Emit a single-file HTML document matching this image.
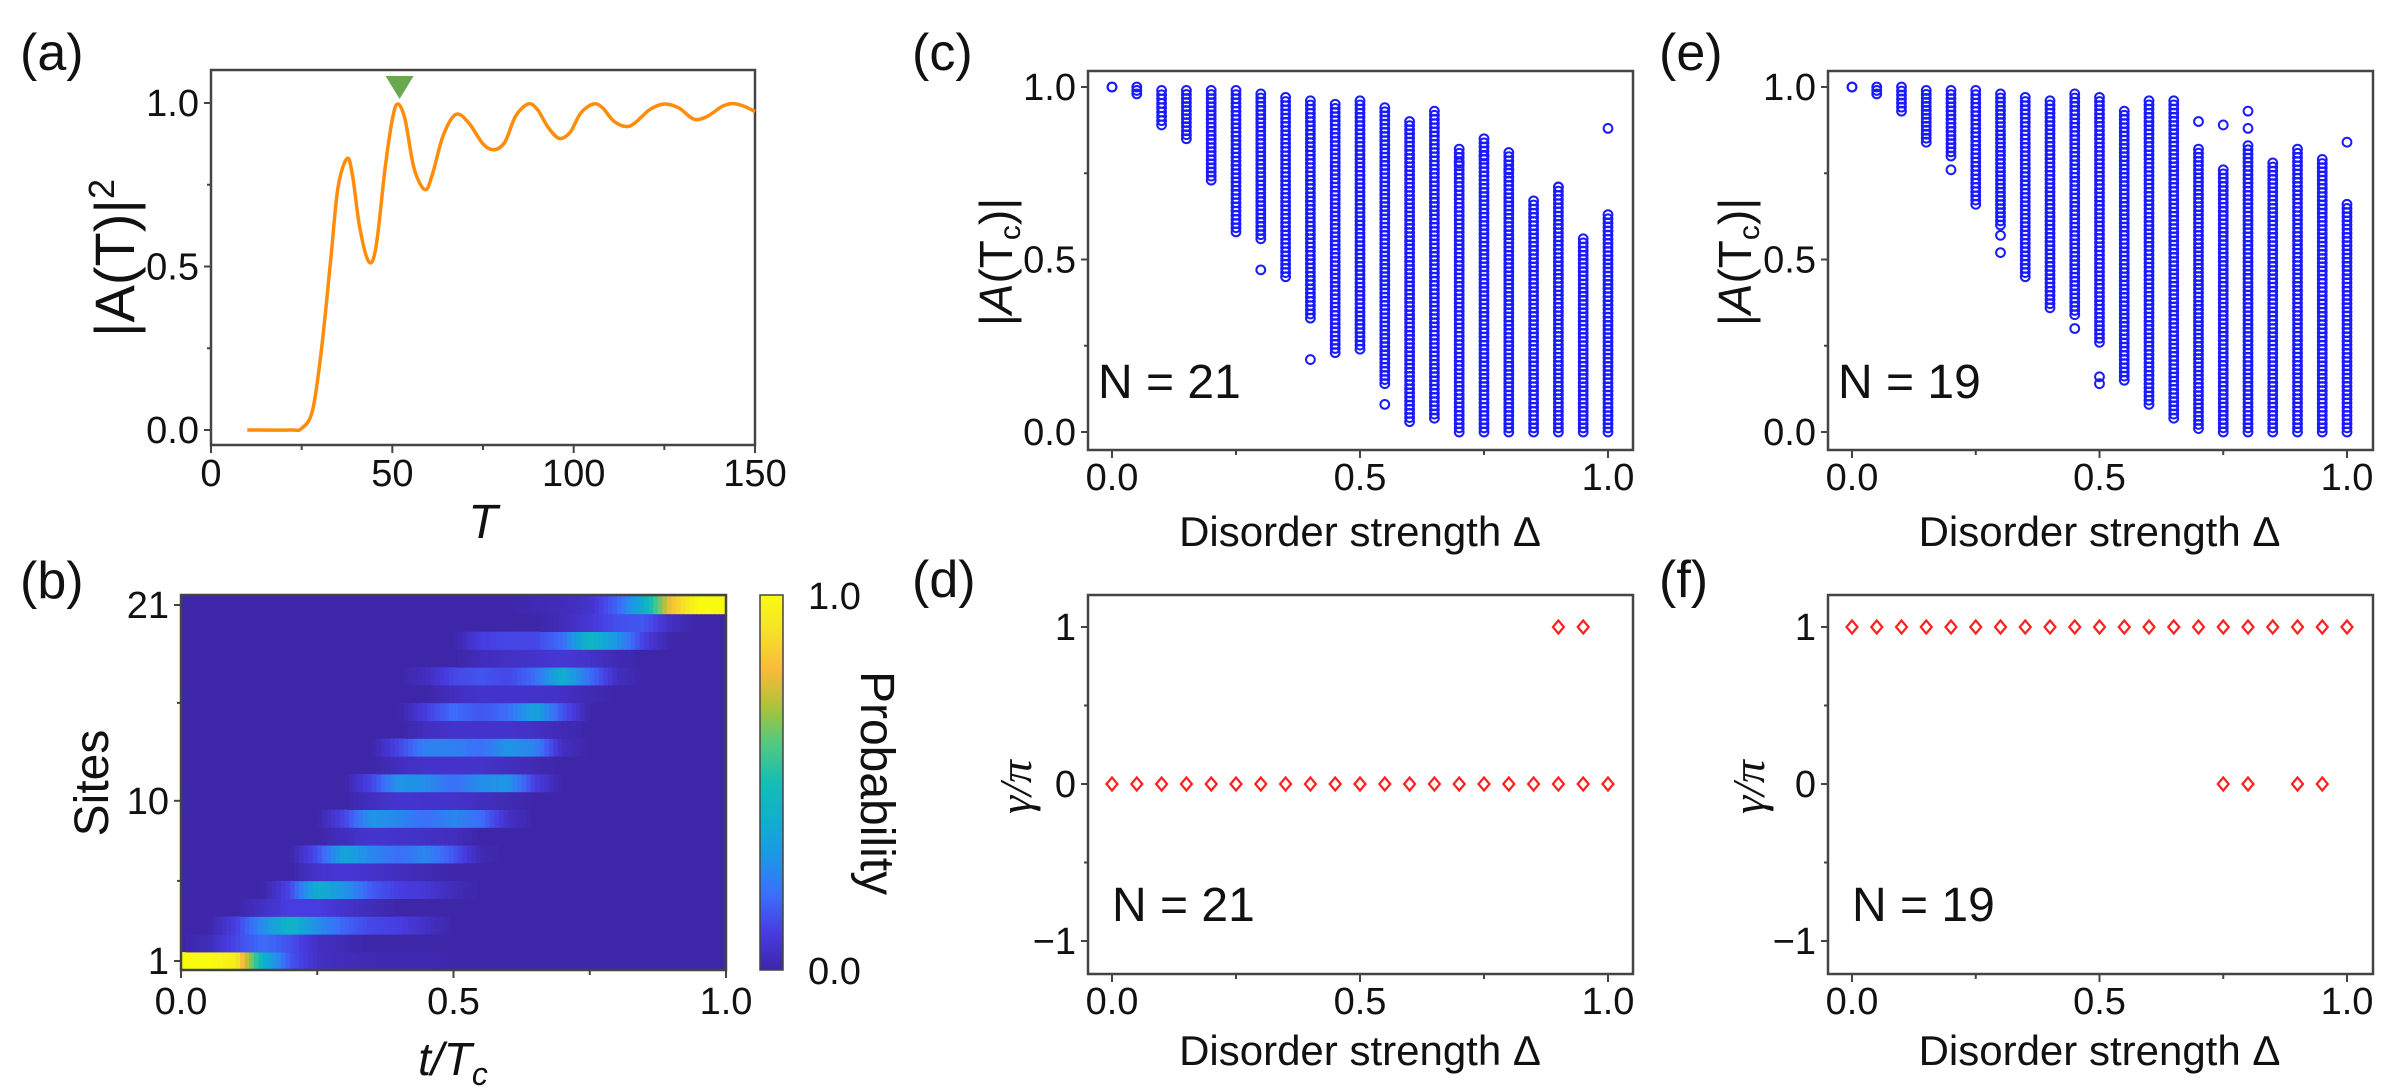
<!DOCTYPE html>
<html><head><meta charset="utf-8">
<style>
html,body{margin:0;padding:0;background:#fff;}
svg{display:block;font-family:"Liberation Sans",Arial,sans-serif;}
</style></head>
<body>
<svg id="fig" xmlns="http://www.w3.org/2000/svg" width="2400" height="1092" viewBox="0 0 2400 1092">
<defs>
<linearGradient id="parula" x1="0" y1="1" x2="0" y2="0">
<stop offset="0" stop-color="rgb(62,38,168)"/>
<stop offset="0.1" stop-color="rgb(72,60,225)"/>
<stop offset="0.2" stop-color="rgb(60,110,250)"/>
<stop offset="0.3" stop-color="rgb(30,150,230)"/>
<stop offset="0.4" stop-color="rgb(15,175,205)"/>
<stop offset="0.5" stop-color="rgb(20,190,180)"/>
<stop offset="0.6" stop-color="rgb(80,200,130)"/>
<stop offset="0.7" stop-color="rgb(170,195,60)"/>
<stop offset="0.8" stop-color="rgb(250,185,60)"/>
<stop offset="0.9" stop-color="rgb(245,225,40)"/>
<stop offset="1" stop-color="rgb(249,251,14)"/>
</linearGradient>
<clipPath id="clipB"><rect x="181" y="595" width="545" height="375"/></clipPath>
</defs>
<g id="layer"></g>
</svg>
<script>
// ---------- Panel (a) data ----------
const aT = [10,22,25,28,30.5,33,35,37.5,39,41,43.5,45.5,48,50,51.5,53.5,56,59,61,64,67.5,71,75,78,81,84,87.5,90,93,96,99,102,105.5,108,111,114.5,117,121,125,129,132,134,137,141,144,147,150];
const aV = [0,0,0.005,0.06,0.25,0.52,0.74,0.83,0.78,0.62,0.515,0.56,0.8,0.95,0.997,0.95,0.8,0.735,0.78,0.9,0.965,0.94,0.875,0.857,0.88,0.96,0.997,0.98,0.925,0.892,0.91,0.97,0.997,0.985,0.945,0.928,0.94,0.98,0.997,0.985,0.958,0.949,0.96,0.99,0.998,0.99,0.974];
const aMarkerT = [52];
const aMarkerV = [1.0];
const aXTicks = [0,50,100,150];
const aYTicks = ["0.0","0.5","1.0"];

// ---------- Panel (b) data: rows = sites 1..21, cols = t 0,0.05,...,1 ----------
const bTimes = [0,0.05,0.1,0.15,0.2,0.25,0.3,0.35,0.4,0.45,0.5,0.55,0.6,0.65,0.7,0.75,0.8,0.85,0.9,0.95,1];
const bProb = [
[1,1,0.95,0.42,0.15,0.05,0.03,0.02,0.02,0.02,0,0,0,0,0,0,0,0,0,0,0],
[0,0.03,0.12,0.2,0.14,0.05,0.02,0,0,0,0,0,0,0,0,0,0,0,0,0,0],
[0,0,0.1,0.28,0.44,0.28,0.18,0.12,0.1,0.05,0,0,0,0,0,0,0,0,0,0,0],
[0,0,0,0.05,0.1,0.1,0.06,0.03,0,0,0,0,0,0,0,0,0,0,0,0,0],
[0,0,0,0,0.12,0.4,0.3,0.16,0.1,0.08,0.03,0,0,0,0,0,0,0,0,0,0],
[0,0,0,0,0,0.06,0.08,0.06,0.04,0.02,0,0,0,0,0,0,0,0,0,0,0],
[0,0,0,0,0,0.14,0.36,0.26,0.2,0.26,0.15,0.02,0,0,0,0,0,0,0,0,0],
[0,0,0,0,0,0,0.04,0.07,0.06,0.05,0.04,0,0,0,0,0,0,0,0,0,0],
[0,0,0,0,0,0,0.12,0.3,0.26,0.2,0.26,0.2,0.05,0,0,0,0,0,0,0,0],
[0,0,0,0,0,0,0,0.04,0.07,0.06,0.06,0.04,0.02,0,0,0,0,0,0,0,0],
[0,0,0,0,0,0,0,0.12,0.3,0.28,0.2,0.28,0.3,0.1,0,0,0,0,0,0,0],
[0,0,0,0,0,0,0,0,0.04,0.06,0.06,0.06,0.04,0.02,0,0,0,0,0,0,0],
[0,0,0,0,0,0,0,0,0.12,0.25,0.25,0.2,0.3,0.25,0.04,0,0,0,0,0,0],
[0,0,0,0,0,0,0,0,0,0.04,0.06,0.06,0.06,0.05,0.02,0,0,0,0,0,0],
[0,0,0,0,0,0,0,0,0,0.1,0.2,0.15,0.2,0.35,0.15,0,0,0,0,0,0],
[0,0,0,0,0,0,0,0,0,0,0.04,0.06,0.06,0.06,0.05,0.02,0,0,0,0,0],
[0,0,0,0,0,0,0,0,0,0.04,0.12,0.15,0.12,0.2,0.4,0.2,0.04,0,0,0,0],
[0,0,0,0,0,0,0,0,0,0,0,0.03,0.05,0.06,0.08,0.06,0.02,0,0,0,0],
[0,0,0,0,0,0,0,0,0,0,0,0.1,0.12,0.12,0.2,0.45,0.3,0.1,0,0,0],
[0,0,0,0,0,0,0,0,0,0,0,0,0,0,0.03,0.08,0.14,0.15,0.04,0,0],
[0,0,0,0,0,0,0,0,0,0,0,0,0,0.02,0.03,0.06,0.18,0.4,0.82,1,1]
];
const bXTicks = ["0.0","0.5","1.0"];
const bYTicks = [1,10,21];

// ---------- Panel (c) data (N=21) ----------
const cDelta = [0,0.05,0.1,0.15,0.2,0.25,0.3,0.35,0.4,0.45,0.5,0.55,0.6,0.65,0.7,0.75,0.8,0.85,0.9,0.95,1.0];
const cMin = [1.0,0.98,0.89,0.85,0.73,0.58,0.56,0.45,0.33,0.23,0.24,0.14,0.03,0.04,0.0,0.0,0.0,0.0,0.0,0.0,0.0];
const cMax = [1.0,1.0,0.99,0.99,0.99,0.99,0.98,0.97,0.96,0.95,0.96,0.94,0.9,0.93,0.82,0.85,0.81,0.67,0.71,0.56,0.63];
const cOutX = [0.3,0.4,0.55,0.7,0.75,0.8,0.9,1.0];
const cOutV = [0.47,0.21,0.08,0.78,0.8,0.76,0.71,0.88];

// ---------- Panel (e) data (N=19) ----------
const eDelta = [0,0.05,0.1,0.15,0.2,0.25,0.3,0.35,0.4,0.45,0.5,0.55,0.6,0.65,0.7,0.75,0.8,0.85,0.9,0.95,1.0];
const eMin = [1.0,0.98,0.93,0.84,0.8,0.66,0.6,0.45,0.36,0.34,0.26,0.15,0.08,0.04,0.01,0.0,0.0,0.0,0.0,0.0,0.0];
const eMax = [1.0,1.0,1.0,0.99,0.99,0.99,0.98,0.97,0.96,0.98,0.97,0.93,0.96,0.96,0.82,0.76,0.83,0.78,0.82,0.79,0.66];
const eOutX = [0.2,0.3,0.3,0.45,0.5,0.5,0.7,0.75,0.8,0.8,1.0];
const eOutV = [0.76,0.52,0.57,0.30,0.14,0.16,0.9,0.89,0.93,0.88,0.84];

// ---------- Panel (d) / (f) data ----------
const dDelta = [0,0.05,0.1,0.15,0.2,0.25,0.3,0.35,0.4,0.45,0.5,0.55,0.6,0.65,0.7,0.75,0.8,0.85,0.9,0.95,1.0,0.9,0.95];
const dGamma = [0,0,0,0,0,0,0,0,0,0,0,0,0,0,0,0,0,0,0,0,0,1,1];
const fDelta = [0,0.05,0.1,0.15,0.2,0.25,0.3,0.35,0.4,0.45,0.5,0.55,0.6,0.65,0.7,0.75,0.8,0.85,0.9,0.95,1.0,0.75,0.8,0.9,0.95];
const fGamma = [1,1,1,1,1,1,1,1,1,1,1,1,1,1,1,1,1,1,1,1,1,0,0,0,0];
const deltaTicks = ["0.0","0.5","1.0"];
const ampTicks = ["0.0","0.5","1.0"];
const gammaTicks = [-1,0,1];

const NS = "http://www.w3.org/2000/svg";
const root = document.getElementById('layer');
function mk(tag, attrs, parent){
  const e = document.createElementNS(NS, tag);
  for (const k in attrs) e.setAttribute(k, attrs[k]);
  (parent||root).appendChild(e);
  return e;
}
function lin(d0,d1,r0,r1){ return v => r0 + (v-d0)*(r1-r0)/(d1-d0); }
function txt(x,y,s,size,anchor,extra){
  const t = mk('text', Object.assign({x:x,y:y,'font-size':size,'text-anchor':anchor||'start',fill:'#111'}, extra||{}));
  t.textContent = s;
  return t;
}
function frame(x0,y0,x1,y1,name){
  const r = mk('rect',{x:x0,y:y0,width:x1-x0,height:y1-y0,fill:'none',stroke:'#444','stroke-width':2.5});
  
  
  return r;
}
function xtick(x,yb,len){ mk('line',{x1:x,x2:x,y1:yb,y2:yb+len,stroke:'#444','stroke-width':2}); }
function ytick(xl,y,len){ mk('line',{x1:xl,x2:xl-len,y1:y,y2:y,stroke:'#444','stroke-width':2}); }
function panelLabel(x,y,s,name){
  const t = txt(x,y,s,52,'start');
  
  
}
function smoothPath(pts){
  let d = 'M'+pts[0][0]+','+pts[0][1];
  for (let i=0;i<pts.length-1;i++){
    const p0=pts[Math.max(i-1,0)], p1=pts[i], p2=pts[i+1], p3=pts[Math.min(i+2,pts.length-1)];
    const c1=[p1[0]+(p2[0]-p0[0])/6, p1[1]+(p2[1]-p0[1])/6];
    const c2=[p2[0]-(p3[0]-p1[0])/6, p2[1]-(p3[1]-p1[1])/6];
    d += ' C'+c1[0].toFixed(2)+','+c1[1].toFixed(2)+' '+c2[0].toFixed(2)+','+c2[1].toFixed(2)+' '+p2[0].toFixed(2)+','+p2[1].toFixed(2);
  }
  return d;
}

// ================= Panel (a) =================
(function(){
  const X = lin(0,150,211,755), Y = lin(0,1,430,103);
  panelLabel(20,70,'(a)','panel-a-label');
  frame(211,70,755,445,'panel-a-frame');
  aXTicks.forEach(v=>{ xtick(X(v),445,8); const t=txt(X(v),486,String(v),38,'middle');   });
  [25,75,125].forEach(v=>xtick(X(v),445,5));
  aYTicks.forEach(s=>{ const v=parseFloat(s); ytick(211,Y(v),7); const t=txt(199,Y(v)+13,s,38,'end');   });
  [0.25,0.75].forEach(v=>ytick(211,Y(v),4));
  const pts = aT.map((t,i)=>[X(t),Y(aV[i])]);
  const p = mk('path',{d:smoothPath(pts),fill:'none',stroke:'#ff8c0a','stroke-width':3.5,'stroke-linejoin':'round'});
  
  
  aMarkerT.forEach((t,i)=>{
    const cx=X(t), cy=Y(aMarkerV[i])-4;
    const tri = mk('polygon',{points:(cx-14)+','+(cy-23)+' '+(cx+14)+','+(cy-23)+' '+cx+','+cy,fill:'#6aa84f'});
    
    
  });
  const yl = txt(0,0,'',56,'middle',{transform:'translate(134,258) rotate(-90)'});
  yl.innerHTML = '|A(T)|<tspan dy="-20" font-size="36">2</tspan>';
  
  
  const xl = txt(483,538,'T',48,'middle',{'font-style':'italic'});
  
  
})();

// ================= Panel (b) =================
(function(){
  const X = lin(0,1,181,726), Y = lin(1,21,961,605);
  const rowH = (961-605)/20;
  panelLabel(20,598,'(b)','panel-b-label');
  const g = mk('g',{'clip-path':'url(#clipB)'});
  
  
  mk('rect',{x:181,y:595,width:545,height:375,fill:'rgb(62,38,168)'},g);
  const stops=[[0,[62,38,168]],[0.1,[72,60,225]],[0.2,[60,110,250]],[0.3,[30,150,230]],[0.4,[15,175,205]],[0.5,[20,190,180]],[0.6,[80,200,130]],[0.7,[170,195,60]],[0.8,[250,185,60]],[0.9,[245,225,40]],[1,[249,251,14]]];
  function cmap(v){
    v=Math.max(0,Math.min(1,v));
    for(let i=0;i<stops.length-1;i++){
      if(v<=stops[i+1][0]){const f=(v-stops[i][0])/(stops[i+1][0]-stops[i][0]);const a=stops[i][1],b=stops[i+1][1];
        return 'rgb('+a.map((c,k)=>Math.round(c+(b[k]-c)*f)).join(',')+')';}
    }
    return 'rgb(249,251,14)';
  }
  const nSlices = 120;
  bProb.forEach((row,ri)=>{
    const site = ri+1;
    const yc = Y(site);
    for(let s=0;s<nSlices;s++){
      const t = (s+0.5)/nSlices;
      let k = Math.min(Math.floor(t/0.05), bTimes.length-2);
      const f = (t-bTimes[k])/(bTimes[k+1]-bTimes[k]);
      const v = row[k]+(row[k+1]-row[k])*f;
      if(v<0.005) continue;
      const c = mk('rect',{x:X(s/nSlices).toFixed(2),y:(yc-rowH/2).toFixed(2),width:(545/nSlices+0.6).toFixed(2),height:(rowH+0.3).toFixed(2),fill:cmap(v)},g);
      
      
    }
  });
  frame(181,595,726,970,'panel-b-frame');
  bXTicks.forEach(s=>{ const v=parseFloat(s); xtick(X(v),970,8); const t=txt(X(v),1014,s,38,'middle');   });
  [0.25,0.75].forEach(v=>xtick(X(v),970,5));
  bYTicks.forEach(v=>{ ytick(181,Y(v),7); const t=txt(169,Y(v)+13,String(v),38,'end');   });
  [5.5,15.5].forEach(v=>ytick(181,Y(v),4));
  const yl = txt(0,0,'Sites',48,'middle',{transform:'translate(108,783) rotate(-90)'});
  
  
  const xl = txt(453,1075,'',46,'middle',{'font-style':'italic'});
  xl.innerHTML = 't/T<tspan dy="10" font-size="32">c</tspan>';
  
  
  const cb = mk('rect',{x:760,y:595,width:23,height:375,fill:'url(#parula)',stroke:'#444','stroke-width':1.5});
  
  
  let t1=txt(808,609,'1.0',38,'start');  
  let t0=txt(808,984,'0.0',38,'start');  
  const pl = txt(0,0,'Probability',48,'middle',{transform:'translate(861,783) rotate(90)'});
  
  
})();

// ================= Scatter panels (c), (e) =================
function ampPanel(x0,x1,fx0,fx1,deltas,mins,maxs,outX,outV,label,lx,nText,ylx,id){
  const X = lin(0,1,x0,x1), Y = lin(0,1,432,87);
  panelLabel(lx,70,label,'panel-'+id+'-label');
  frame(fx0,71,fx1,450,'panel-'+id+'-frame');
  deltaTicks.forEach(s=>{ const v=parseFloat(s); xtick(X(v),450,8); const t=txt(X(v),490,s,38,'middle');   });
  [0.25,0.75].forEach(v=>xtick(X(v),450,5));
  ampTicks.forEach(s=>{ const v=parseFloat(s); ytick(fx0,Y(v),7); const t=txt(fx0-12,Y(v)+13,s,38,'end');   });
  [0.25,0.75].forEach(v=>ytick(fx0,Y(v),4));
  const g = mk('g',{fill:'none',stroke:'#1a1aff','stroke-width':2});
  
  
  deltas.forEach((d,i)=>{
    const lo=mins[i], hi=maxs[i];
    const n = Math.max(1, Math.round((hi-lo)/0.012));
    for(let k=0;k<=n;k++){
      const v = lo+(hi-lo)*k/n;
      const c = mk('circle',{cx:X(d).toFixed(2),cy:Y(v).toFixed(2),r:4.4},g);
      
      
    }
  });
  outX.forEach((d,i)=>{
    const c = mk('circle',{cx:X(d).toFixed(2),cy:Y(outV[i]).toFixed(2),r:4.4},g);
    
    
  });
  const nt = txt(fx0+10,398,nText,48,'start');
  
  
  const yl = txt(0,0,'',46,'middle',{transform:'translate('+ylx+',262) rotate(-90)'});
  yl.innerHTML = '|<tspan font-style="italic">A</tspan>(T<tspan dy="8" font-size="30">c</tspan><tspan dy="-8">)|</tspan>';
  
  
  const xl = txt((x0+x1)/2,546,'Disorder strength Δ',42,'middle');
  
  
}
ampPanel(1112,1608,1088,1633,cDelta,cMin,cMax,cOutX,cOutV,'(c)',912,'N = 21',1012,'c');
ampPanel(1852,2347,1828,2373,eDelta,eMin,eMax,eOutX,eOutV,'(e)',1659,'N = 19',1751,'e');

// ================= Phase panels (d), (f) =================
function phasePanel(x0,x1,fx0,fx1,deltas,gammas,label,lx,nText,ylx,id){
  const X = lin(0,1,x0,x1), Y = lin(0,1,784,627);
  panelLabel(lx,597,label,'panel-'+id+'-label');
  frame(fx0,595,fx1,974,'panel-'+id+'-frame');
  deltaTicks.forEach(s=>{ const v=parseFloat(s); xtick(X(v),974,8); const t=txt(X(v),1014,s,38,'middle');   });
  [0.25,0.75].forEach(v=>xtick(X(v),974,5));
  gammaTicks.forEach(v=>{ ytick(fx0,Y(v),7); const t=txt(fx0-12,Y(v)+13,v<0?'\u2212'+Math.abs(v):String(v),38,'end');   });
  [-0.5,0.5].forEach(v=>ytick(fx0,Y(v),4));
  const g = mk('g',{fill:'none',stroke:'#ff2020','stroke-width':2.2});
  
  
  deltas.forEach((d,i)=>{
    const cx=X(d), cy=Y(gammas[i]);
    const p = mk('polygon',{points:cx+','+(cy-6.5)+' '+(cx+5.5)+','+cy+' '+cx+','+(cy+6.5)+' '+(cx-5.5)+','+cy},g);
    
    
  });
  const nt = txt(fx0+24,921,nText,48,'start');
  
  
  const yl = txt(0,0,'',46,'middle',{transform:'translate('+ylx+',787) rotate(-90)','font-family':'"Liberation Serif",serif','font-style':'italic'});
  yl.textContent = 'γ/π';
  
  
  const xl = txt((x0+x1)/2,1065,'Disorder strength Δ',42,'middle');
  
  
}
phasePanel(1112,1608,1088,1633,dDelta,dGamma,'(d)',912,'N = 21',1031,'d');
phasePanel(1852,2347,1828,2373,fDelta,fGamma,'(f)',1659,'N = 19',1764,'f');
</script>
</body></html>
